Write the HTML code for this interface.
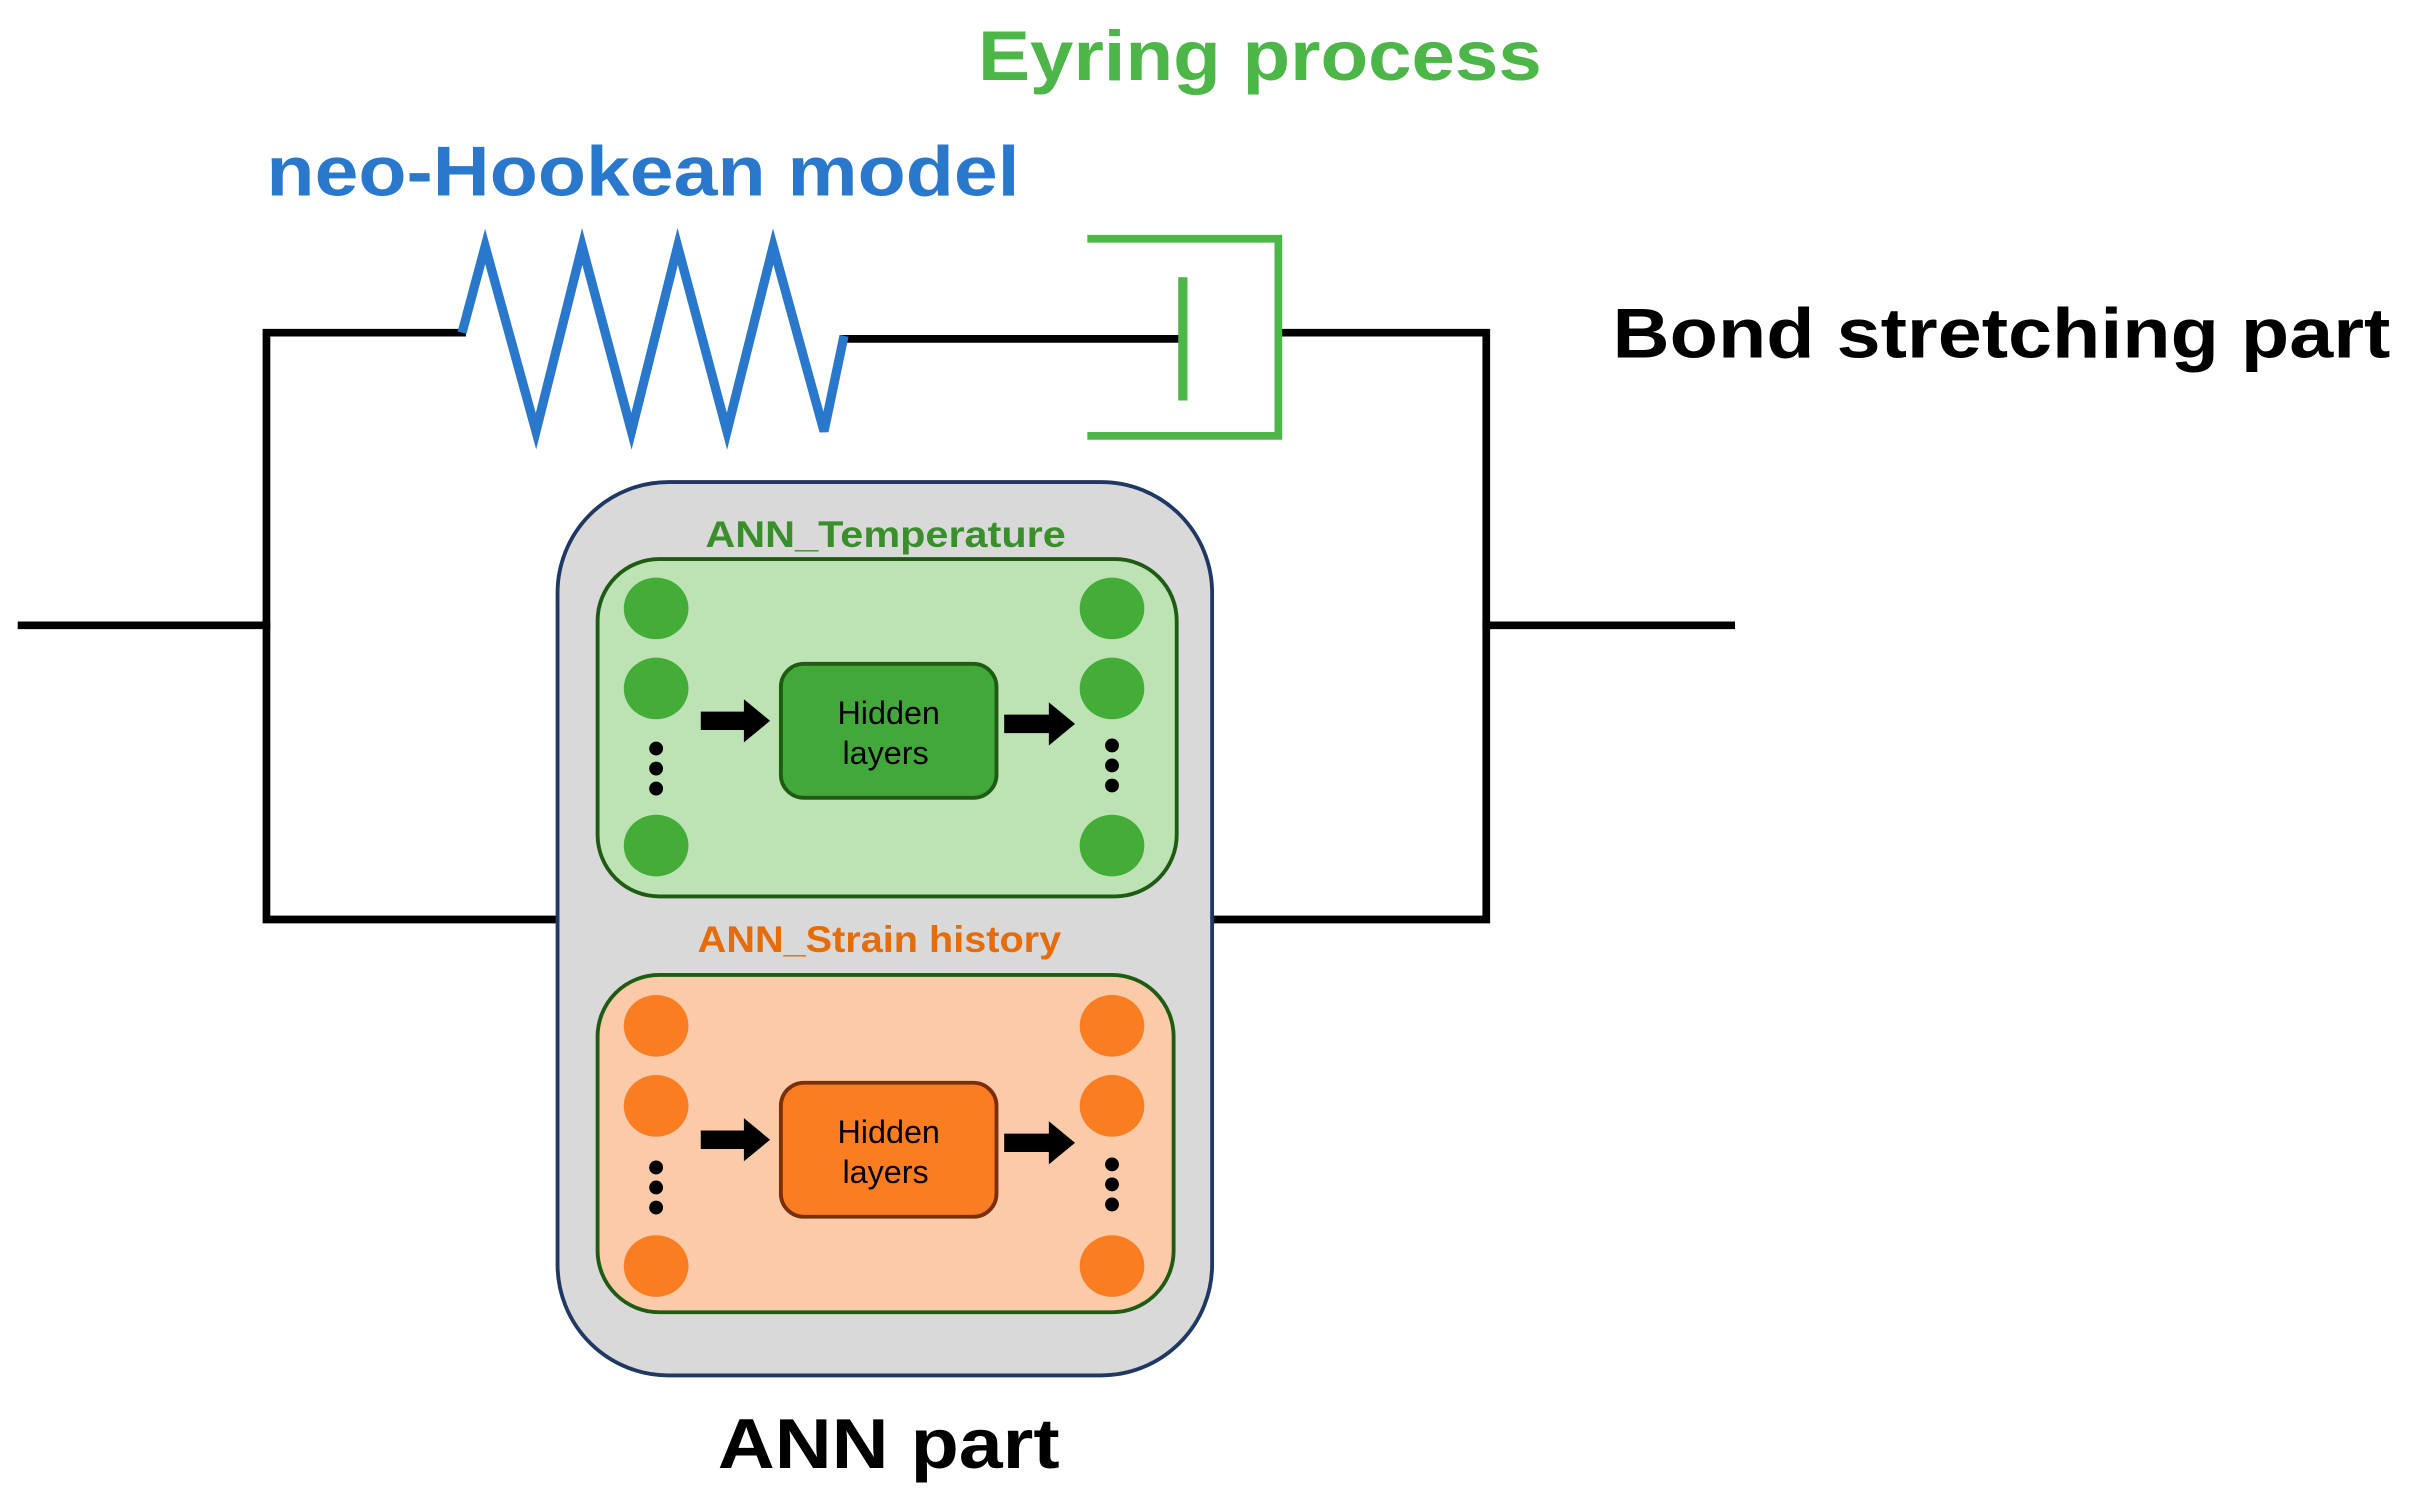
<!DOCTYPE html>
<html><head><meta charset="utf-8"><style>html,body{margin:0;padding:0;background:#fff}svg{display:block}</style></head>
<body>
<svg width="2415" height="1510" viewBox="0 0 1568 980.4" preserveAspectRatio="none" xmlns="http://www.w3.org/2000/svg" font-family="Liberation Sans, sans-serif">
<rect width="1568" height="981" fill="#fff"/>
<!-- titles -->
<text x="635" y="52" font-size="46" font-weight="bold" fill="#4cb648" textLength="366" lengthAdjust="spacingAndGlyphs">Eyring process</text>
<text x="173" y="127" font-size="46" font-weight="bold" fill="#2a78cc" textLength="489" lengthAdjust="spacingAndGlyphs">neo-Hookean model</text>
<text x="1047" y="232" font-size="46" font-weight="bold" fill="#000" textLength="505" lengthAdjust="spacingAndGlyphs">Bond stretching part</text>
<!-- circuit -->
<g stroke="#000" stroke-width="5" fill="none" stroke-linecap="square">
<polyline points="300,216 173,216 173,597 363,597"/>
<line x1="14" y1="406" x2="173" y2="406"/>
<line x1="548" y1="220" x2="768" y2="220"/>
<polyline points="830,216 965,216 965,597 790,597"/>
<line x1="965" y1="406" x2="1124" y2="406"/>
</g>
<polyline points="300,216 315,160 348,280 378,160 410,280 440,160 472,280 502,160 535,280 548,218" fill="none" stroke="#2a78cc" stroke-width="6" stroke-linejoin="miter"/>
<polyline points="706,155 830,155 830,283 706,283" fill="none" stroke="#4cb648" stroke-width="5"/>
<line x1="768" y1="180" x2="768" y2="260" stroke="#4cb648" stroke-width="6"/>
<!-- ANN outer -->
<rect x="362" y="313" width="425" height="580" rx="72" fill="#d9d9d9" stroke="#1f3864" stroke-width="2.5"/>
<text x="575" y="355" font-size="24" font-weight="bold" fill="#3a8f2c" text-anchor="middle" textLength="234" lengthAdjust="spacingAndGlyphs">ANN_Temperature</text>
<rect x="388" y="363" width="376" height="219" rx="40" fill="#bde3b4" stroke="#1e5c14" stroke-width="2.5"/>
<g fill="#43ad38">
<ellipse cx="426" cy="395" rx="21" ry="20"/><ellipse cx="426" cy="447" rx="21" ry="20"/><ellipse cx="426" cy="549" rx="21" ry="20"/>
<ellipse cx="722" cy="395" rx="21" ry="20"/><ellipse cx="722" cy="447" rx="21" ry="20"/><ellipse cx="722" cy="549" rx="21" ry="20"/>
</g>
<g fill="#000">
<circle cx="426" cy="486" r="4.5"/><circle cx="426" cy="499" r="4.5"/><circle cx="426" cy="512" r="4.5"/>
<circle cx="722" cy="484" r="4.5"/><circle cx="722" cy="497" r="4.5"/><circle cx="722" cy="510" r="4.5"/>
<polygon points="455,462 483,462 483,454 500,468 483,482 483,474 455,474"/>
<polygon points="652,464 681,464 681,456 698,470 681,484 681,476 652,476"/>
</g>
<rect x="507" y="431" width="140" height="87" rx="15" fill="#43a83a" stroke="#1e5c14" stroke-width="2.5"/>
<text x="577" y="470" font-size="21" fill="#000" text-anchor="middle">Hidden</text>
<text x="575" y="496" font-size="21" fill="#000" text-anchor="middle">layers</text>
<text x="571" y="618" font-size="24" font-weight="bold" fill="#e46c0a" text-anchor="middle" textLength="236" lengthAdjust="spacingAndGlyphs">ANN_Strain history</text>
<rect x="388" y="633" width="374" height="219" rx="40" fill="#fbcaa8" stroke="#1e5c14" stroke-width="2.5"/>
<g fill="#fb7d22">
<ellipse cx="426" cy="666" rx="21" ry="20"/><ellipse cx="426" cy="718" rx="21" ry="20"/><ellipse cx="426" cy="822" rx="21" ry="20"/>
<ellipse cx="722" cy="666" rx="21" ry="20"/><ellipse cx="722" cy="718" rx="21" ry="20"/><ellipse cx="722" cy="822" rx="21" ry="20"/>
</g>
<g fill="#000">
<circle cx="426" cy="758" r="4.5"/><circle cx="426" cy="771" r="4.5"/><circle cx="426" cy="784" r="4.5"/>
<circle cx="722" cy="756" r="4.5"/><circle cx="722" cy="769" r="4.5"/><circle cx="722" cy="782" r="4.5"/>
<polygon points="455,734 483,734 483,726 500,740 483,754 483,746 455,746"/>
<polygon points="652,736 681,736 681,728 698,742 681,756 681,748 652,748"/>
</g>
<rect x="507" y="703" width="140" height="87" rx="15" fill="#fb7d22" stroke="#7a2e0a" stroke-width="2.5"/>
<text x="577" y="742" font-size="21" fill="#000" text-anchor="middle">Hidden</text>
<text x="575" y="768" font-size="21" fill="#000" text-anchor="middle">layers</text>
<text x="577" y="953" font-size="46" font-weight="bold" fill="#000" text-anchor="middle" textLength="222" lengthAdjust="spacingAndGlyphs">ANN part</text>
</svg>
</body></html>
